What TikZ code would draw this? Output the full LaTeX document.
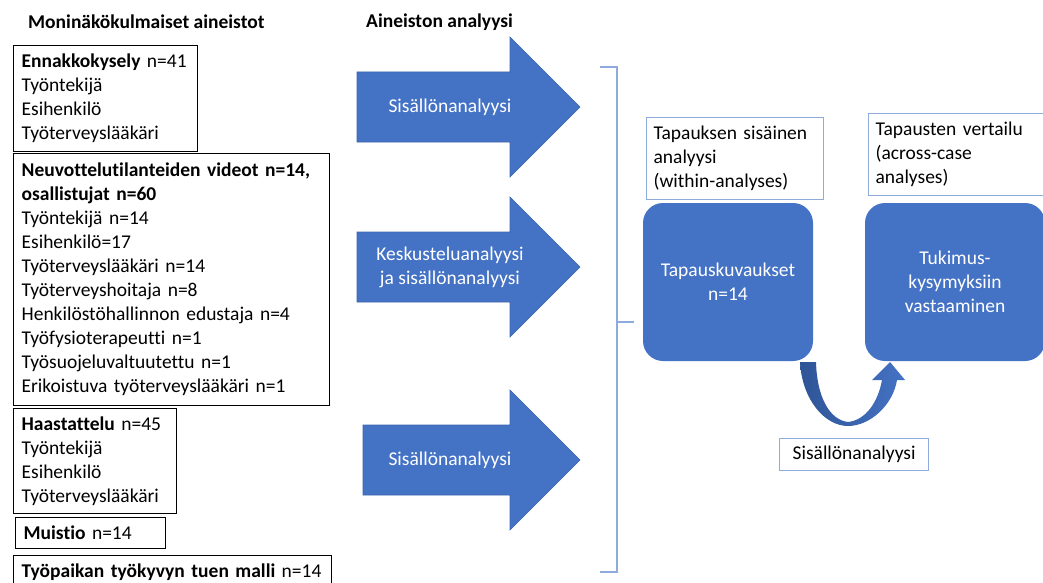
\documentclass[tikz,border=0pt]{standalone}
\usepackage{fontspec}
\setmainfont[Ligatures=NoCommon]{Carlito}
\definecolor{ppblue}{HTML}{4472C4}
\definecolor{ppdark}{HTML}{2F5597}
\definecolor{ppedge}{HTML}{3C64AE}
\definecolor{ppline}{HTML}{8FAADC}

\begin{document}
\begin{tikzpicture}[x=1pt,y=-1pt,
	every node/.style={font=\fontsize{19.5}{24}\selectfont},
	header/.style={font=\fontsize{19.5}{24}\selectfont\bfseries,anchor=west,inner sep=0pt},
	srcbox/.style={draw=black,line width=1.3pt,anchor=north west,align=left,inner xsep=8pt,inner ysep=0pt},
	notebox/.style={draw=ppline,line width=1.2pt,anchor=north west,align=left,inner xsep=7pt,inner ysep=0pt},
	casebox/.style={fill=ppblue,rounded corners=20pt,text=white,align=center,inner sep=0pt},
	blockarrow/.style={fill=ppblue,draw=ppedge,line width=0.6pt},
	arrowtext/.style={text=white,align=center},
	bracket/.style={draw=ppline,line width=1.3pt}]
	\clip (0,0) rectangle (1043,583);
	
	\node[header] (aineistot) at (28,22) {Moninäkökulmaiset aineistot};
	\node[header] (analyysi) at (366,22) {Aineiston analyysi};
	
	% aineistot
	\node[srcbox,text width=168,minimum height=106] (ennakko) at (13,45)
	{\textbf{Ennakkokysely} n=41\\Työntekijä\\Esihenkilö\\Työterveyslääkäri};
	\node[srcbox,text width=300,minimum height=252] (videot) at (13,153)
	{\textbf{Neuvottelutilanteiden videot n=14,}\\\textbf{osallistujat n=60}\\Työntekijä n=14\\Esihenkilö=17\\Työterveyslääkäri n=14\\Työterveyshoitaja n=8\\Henkilöstöhallinnon edustaja n=4\\Työfysioterapeutti n=1\\Työsuojeluvaltuutettu n=1\\Erikoistuva työterveyslääkäri n=1};
	\node[srcbox,text width=147,minimum height=105] (haastattelu) at (13,408)
	{\textbf{Haastattelu} n=45\\Työntekijä\\Esihenkilö\\Työterveyslääkäri};
	\node[srcbox,text width=134,minimum height=31] (muistio) at (15,517)
	{\textbf{Muistio} n=14};
	\node[srcbox,text width=302,minimum height=34] (malli) at (13,555)
	{\textbf{Työpaikan työkyvyn tuen malli} n=14};
	
	% analyysinuolet
	\foreach \y/\x/\name/\txt in {107/357/sis/Sisällönanalyysi,
		267/357/kesk/{Keskusteluanalyysi\\ja sisällönanalyysi},
		460/363/sistoinen/Sisällönanalyysi}{
		\draw[blockarrow] (\x,\y-35) -- (510,\y-35) -- (510,\y-70) -- (580,\y) --
		(510,\y+70) -- (510,\y+35) -- (\x,\y+35) -- cycle;
		\node[arrowtext] (\name) at (450,\y) {\txt};
	}
	
	\draw[bracket] (600,67) -- (617,67) -- (617,572) -- (600,572);
	\draw[bracket] (617,322) -- (634,322);
	
	% tapaukset
	\node[notebox,text width=163,minimum height=82] (sisainen) at (646,117)
	{Tapauksen sisäinen\\analyysi\\(within-analyses)};
	\node[notebox,text width=166,minimum height=82] (vertailu) at (868,113)
	{Tapausten vertailu\\(across-case\\analyses)};
	\node[casebox,minimum width=170,minimum height=158] (kuvaus) at (728,282)
	{Tapauskuvaukset\\n=14};
	\node[casebox,minimum width=180,minimum height=158] (vastaus) at (955,282)
	{Tukimus-\\kysymyksiin\\vastaaminen};
	
	\shade[left color=ppdark,right color=ppblue] (800,362)
	.. controls (802,400) and (825,426) .. (848,426)
	.. controls (870,426) and (893,405) .. (897,380) -- (905,380) -- (890,362) --
	(872,380) -- (882,380) .. controls (878,402) and (866,420) .. (848,422)
	.. controls (830,420) and (817,398) .. (816,362) -- cycle;
	\node[notebox,align=center,minimum width=149,minimum height=32] (sisvaihe) at (779,438)
	{Sisällönanalyysi};
\end{tikzpicture}
\end{document}
